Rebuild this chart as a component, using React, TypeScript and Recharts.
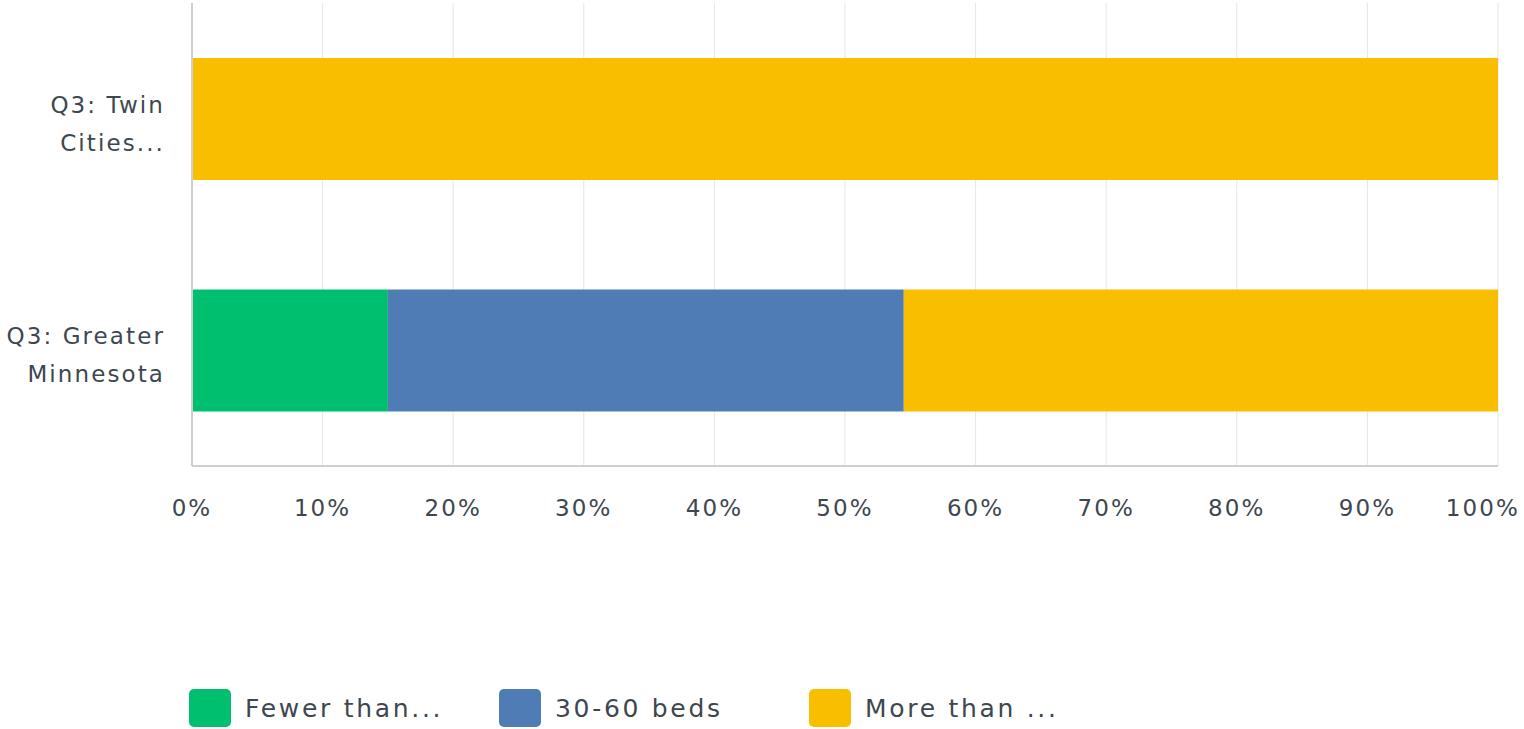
import React from "react";
import { BarChart, Bar, XAxis, YAxis, CartesianGrid, Legend } from "recharts";

const categories = ["Q3: Twin Cities...", "Q3: Greater Minnesota"];
const categoryLines = [["Q3: Twin", "Cities..."], ["Q3: Greater", "Minnesota"]];
const fewerThan = [0, 15.0];
const beds30to60 = [0, 39.5];
const moreThan = [100, 45.5];
const xTicks = [0, 10, 20, 30, 40, 50, 60, 70, 80, 90, 100];
const seriesNames = ["Fewer than...", "30-60 beds", "More than ..."];
const seriesColors = ["#00BF6F", "#507CB6", "#F9BE00"];

const data = categories.map((c, i) => ({
  name: c,
  fewer: fewerThan[i],
  mid: beds30to60[i],
  more: moreThan[i],
}));

const FONT = "'DejaVu Sans', sans-serif";
const TEXT = "#3d4750";

const YTick = (props: any) => {
  const { x, y, payload } = props;
  const idx = categories.indexOf(payload.value);
  const lines = categoryLines[idx] || [payload.value];
  return (
    <text x={x} y={y} textAnchor="end" fill={TEXT} fontSize={23} fontFamily={FONT} letterSpacing={2.1}>
      {lines.map((l, i) => (
        <tspan key={i} x={x} y={y + (i === 0 ? -14 : 24)} dy="0.35em">
          {l}
        </tspan>
      ))}
    </text>
  );
};

const XTick = (props: any) => {
  const { x, y, payload } = props;
  const last = payload.value === xTicks[xTicks.length - 1];
  return (
    <text
      x={last ? x + 22 : x}
      y={y}
      dy="0.71em"
      textAnchor={last ? "end" : "middle"}
      fill={TEXT}
      fontSize={23}
      fontFamily={FONT}
      letterSpacing={2.1}
    >
      {`${payload.value}%`}
    </text>
  );
};

const LegendContent = () => (
  <div style={{ display: "flex", paddingLeft: 189, height: 60, alignItems: "center", paddingTop: 18, boxSizing: "border-box" }}>
    {seriesNames.map((n, i) => (
      <div key={n} style={{ width: 310, display: "flex", alignItems: "center" }}>
        <div style={{ width: 42, height: 38, borderRadius: 5, background: seriesColors[i], marginRight: 14 }} />
        <span style={{ fontFamily: FONT, fontSize: 25, color: TEXT, letterSpacing: 2.7 }}>{n}</span>
      </div>
    ))}
  </div>
);

export default function App() {
  return (
    <div style={{ position: "absolute", left: 0, top: 0 }}>
      <BarChart
        width={1524}
        height={729}
        data={data}
        layout="vertical"
        margin={{ top: 3, right: 26, left: 0, bottom: 0 }}
      >
        <CartesianGrid horizontal={false} stroke="#e6e6e6" />
        <XAxis
          type="number"
          domain={[0, 100]}
          ticks={xTicks}
          axisLine={{ stroke: "#cfcfcf", strokeWidth: 2 }}
          tickLine={false}
          tickSize={0}
          tickMargin={34}
          height={203}
          interval={0}
          tick={<XTick />}
        />
        <YAxis
          type="category"
          dataKey="name"
          width={192}
          axisLine={{ stroke: "#cfcfcf", strokeWidth: 2 }}
          tickLine={false}
          tickSize={0}
          tickMargin={27}
          tick={<YTick />}
        />
        <Legend
          verticalAlign="bottom"
          content={<LegendContent />}
          wrapperStyle={{ left: 0, width: 1524, height: 60 }}
        />
        <Bar dataKey="fewer" stackId="a" fill={seriesColors[0]} barSize={122} isAnimationActive={false} />
        <Bar dataKey="mid" stackId="a" fill={seriesColors[1]} barSize={122} isAnimationActive={false} />
        <Bar dataKey="more" stackId="a" fill={seriesColors[2]} barSize={122} isAnimationActive={false} />
      </BarChart>
    </div>
  );
}
